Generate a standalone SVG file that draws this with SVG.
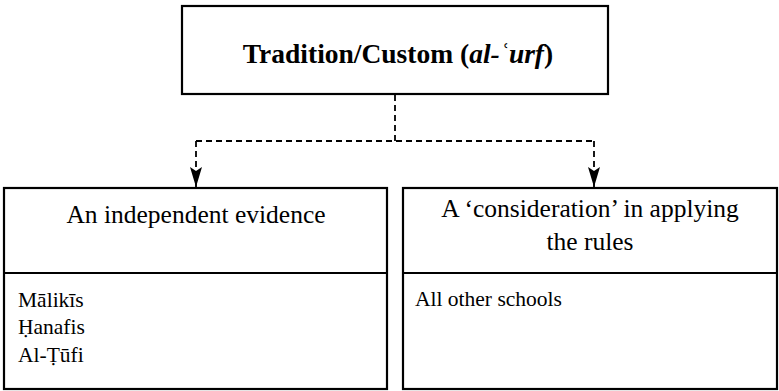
<svg xmlns="http://www.w3.org/2000/svg" width="779" height="391" viewBox="0 0 779 391">
<style>
.box{fill:#fff;stroke:#000;stroke-width:2.2}
.div{stroke:#000;stroke-width:2.2}
.conn{fill:none;stroke:#000;stroke-width:1.8;stroke-dasharray:6,4}
.t{font-family:"Liberation Serif",serif;fill:#000}
.title{font-size:27.5px;font-weight:bold}
.head{font-size:25.5px}
.item{font-size:21.5px}
</style>
<defs>
<marker id="ah" markerWidth="20" markerHeight="12" refX="20" refY="6" orient="auto" markerUnits="userSpaceOnUse" viewBox="0 0 20 12">
<path d="M0,0 L20,6 L0,12 L4,6 Z" fill="#000"/>
</marker>
</defs>
<g id="connectors">
<path class="conn" d="M395,95 V141"/>
<path class="conn" d="M196,141 H594"/>
<path class="conn" d="M196,141 V187" marker-end="url(#ah)"/>
<path class="conn" d="M594,141 V187" marker-end="url(#ah)"/>
</g>
<g id="root">
<rect class="box" x="182" y="6" width="426" height="88"/>
<text class="t title" x="398" y="63" text-anchor="middle">Tradition/Custom (<tspan font-style="italic">al-ʿurf</tspan>)</text>
</g>
<g id="independent">
<rect class="box" x="4" y="188" width="383" height="201"/>
<line class="div" x1="4" y1="273" x2="387" y2="273"/>
<text class="t head" x="196" y="223" text-anchor="middle">An independent evidence</text>
<text class="t item" x="18" y="307">Mālikīs</text>
<text class="t item" x="18" y="334">Ḥanafis</text>
<text class="t item" x="18" y="362">Al-Ṭūfi</text>
</g>
<g id="consideration">
<rect class="box" x="403" y="188" width="374" height="201"/>
<line class="div" x1="403" y1="273" x2="777" y2="273"/>
<text class="t head" x="590" y="217" text-anchor="middle">A ‘consideration’ in applying</text>
<text class="t head" x="590" y="250" text-anchor="middle">the rules</text>
<text class="t item" x="415" y="306">All other schools</text>
</g>
</svg>
